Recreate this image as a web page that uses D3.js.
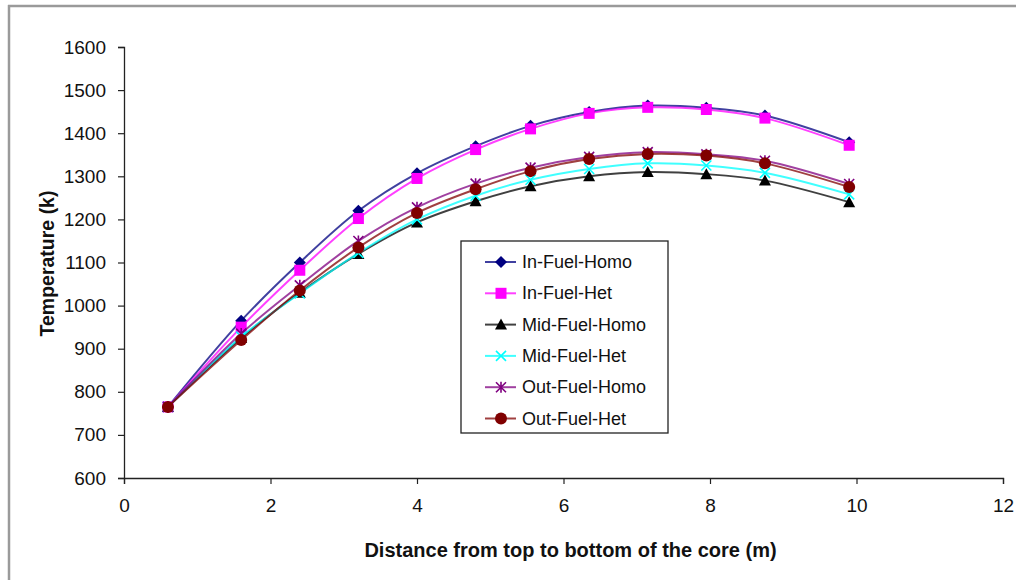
<!DOCTYPE html>
<head>
<meta charset="utf-8">
<style>
  body { margin: 0; background: #fff; }
  svg text { font-family: "Liberation Sans", Arial, sans-serif; }
</style>
</head>
<body>
<div id="chart"></div>
<script src="https://d3js.org/d3.v7.min.js"></script>
<script>
// distance from top of core (m)
var distance = [0.6, 1.6, 2.4, 3.2, 4.0, 4.8, 5.55, 6.35, 7.15, 7.95, 8.75, 9.9];

var inFuelHomo  = [765, 965, 1100, 1220, 1307, 1370, 1417, 1449, 1464, 1459, 1441, 1379];
var inFuelHet   = [765, 950, 1082, 1202, 1295, 1362, 1410, 1446, 1460, 1455, 1435, 1372];
var midFuelHomo = [765, 925, 1030, 1120, 1193, 1242, 1277, 1300, 1310, 1305, 1290, 1240];
var midFuelHet  = [765, 928, 1028, 1122, 1200, 1255, 1292, 1317, 1330, 1325, 1308, 1258];
var outFuelHomo = [765, 935, 1047, 1150, 1228, 1283, 1320, 1345, 1356, 1351, 1336, 1282];
var outFuelHet  = [765, 920, 1035, 1135, 1215, 1270, 1312, 1340, 1352, 1348, 1330, 1275];

var seriesNames = ["In-Fuel-Homo", "In-Fuel-Het", "Mid-Fuel-Homo", "Mid-Fuel-Het", "Out-Fuel-Homo", "Out-Fuel-Het"];
var seriesValues = [inFuelHomo, inFuelHet, midFuelHomo, midFuelHet, outFuelHomo, outFuelHet];
var lineColors = ["#000080", "#ff00ff", "#000000", "#00ffff", "#800080", "#800000"];
var markerTypes = ["diamond", "square", "triangle", "x", "star", "circle"];

var xTicks = [0, 2, 4, 6, 8, 10, 12];
var yTicks = [600, 700, 800, 900, 1000, 1100, 1200, 1300, 1400, 1500, 1600];

var W = 1016, H = 580;
var margin = {top: 47, right: 13, bottom: 102, left: 124},
    width = W - margin.left - margin.right,
    height = H - margin.top - margin.bottom;

var svg = d3.select("#chart").append("svg")
    .attr("width", W)
    .attr("height", H);

// page frame (gray lines at top and left)
svg.append("line").attr("x1", 8).attr("x2", W).attr("y1", 6).attr("y2", 6)
    .attr("stroke", "#9a9a9a").attr("stroke-width", 2.5);
svg.append("line").attr("x1", 9).attr("x2", 9).attr("y1", 5).attr("y2", H)
    .attr("stroke", "#9a9a9a").attr("stroke-width", 2.5);

var g = svg.append("g")
    .attr("transform", "translate(" + margin.left + "," + margin.top + ")");

var x = d3.scaleLinear().domain([0, 12]).range([0, width]);
var y = d3.scaleLinear().domain([600, 1600]).range([height, 0]);

// axes
var xAxis = g.append("g")
    .attr("transform", "translate(0," + height + ")")
    .call(d3.axisBottom(x).tickValues(xTicks).tickSize(6).tickPadding(15).tickFormat(d3.format("d")));
var yAxis = g.append("g")
    .call(d3.axisLeft(y).tickValues(yTicks).tickSize(6).tickPadding(12).tickFormat(d3.format("d")));

[xAxis, yAxis].forEach(function(a) {
  a.select(".domain").attr("stroke", "#222").attr("stroke-width", 1.3);
  a.selectAll(".tick line").attr("stroke", "#222").attr("stroke-width", 1.2);
  a.selectAll(".tick text").attr("fill", "#111")
    .style("font-family", "'Liberation Sans', Arial, sans-serif")
    .style("font-size", "19px");
});

// axis titles
g.append("text")
    .attr("text-anchor", "middle")
    .attr("transform", "translate(" + (width / 2 + 7) + "," + (height + 79) + ")")
    .style("font-size", "20px").style("font-weight", "bold").attr("fill", "#111")
    .text("Distance from top to bottom of the core (m)");
g.append("text")
    .attr("text-anchor", "middle")
    .attr("transform", "translate(" + (-70) + "," + (height / 2 + 1) + ")rotate(-90)")
    .style("font-size", "19.5px").style("font-weight", "bold").attr("fill", "#111")
    .text("Temperature (k)");

var line = d3.line()
    .x(function(d) { return x(d[0]); })
    .y(function(d) { return y(d[1]); })
    .curve(d3.curveCatmullRom.alpha(0.5));

function drawMarker(sel, type, color) {
  if (type === "diamond") {
    sel.append("path").attr("d", "M0,-6L6,0L0,6L-6,0Z").attr("fill", color);
  } else if (type === "square") {
    sel.append("rect").attr("x", -5.5).attr("y", -5.5).attr("width", 11).attr("height", 11).attr("fill", color);
  } else if (type === "triangle") {
    sel.append("path").attr("d", "M0,-6L6,5L-6,5Z").attr("fill", color);
  } else if (type === "x") {
    sel.append("path").attr("d", "M-5,-5L5,5M5,-5L-5,5")
      .attr("stroke", color).attr("stroke-width", 1.6).attr("fill", "none");
  } else if (type === "star") {
    sel.append("path").attr("d", "M-5,-5L5,5M5,-5L-5,5M0,-5.5L0,5.5")
      .attr("stroke", color).attr("stroke-width", 1.6).attr("fill", "none");
  } else if (type === "circle") {
    sel.append("circle").attr("r", 6).attr("fill", color);
  }
}

seriesValues.forEach(function(vals, i) {
  var pts = distance.map(function(d, j) { return [d, vals[j]]; });
  g.append("path")
      .datum(pts)
      .attr("fill", "none")
      .attr("stroke", lineColors[i])
      .attr("stroke-opacity", 0.75)
      .attr("stroke-width", 2)
      .attr("d", line);
  pts.forEach(function(p) {
    var m = g.append("g").attr("transform", "translate(" + x(p[0]) + "," + y(p[1]) + ")");
    drawMarker(m, markerTypes[i], lineColors[i]);
  });
});

// legend
var lg = svg.append("g").attr("transform", "translate(461,241)");
lg.append("rect").attr("width", 207).attr("height", 192)
    .attr("fill", "#fff").attr("stroke", "#222").attr("stroke-width", 1.3);
seriesNames.forEach(function(name, i) {
  var row = lg.append("g").attr("transform", "translate(0," + (21 + i * 31.3) + ")");
  row.append("line").attr("x1", 24).attr("x2", 55).attr("y1", 0).attr("y2", 0)
      .attr("stroke", lineColors[i]).attr("stroke-opacity", 0.75).attr("stroke-width", 2);
  var m = row.append("g").attr("transform", "translate(40,0)");
  drawMarker(m, markerTypes[i], lineColors[i]);
  row.append("text").attr("x", 61).attr("y", 6)
      .style("font-size", "18px").attr("fill", "#111").text(name);
});
</script>
</body>
</html>
